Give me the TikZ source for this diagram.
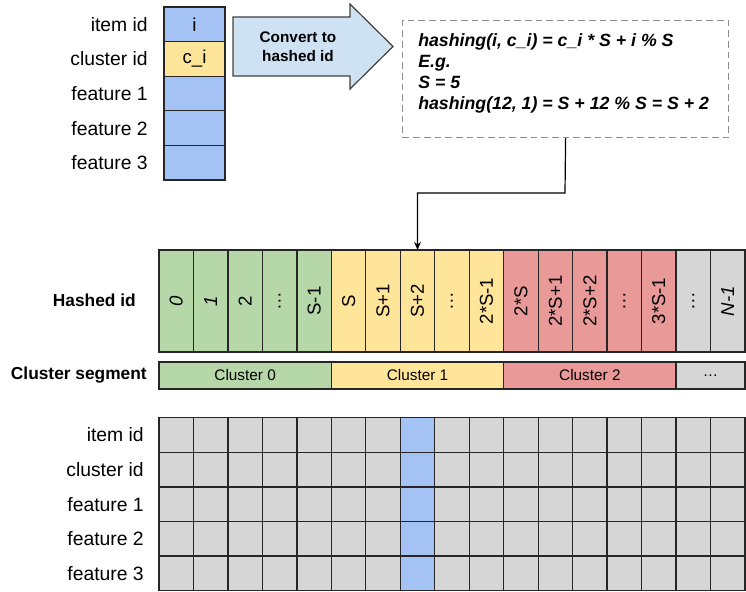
\documentclass[tikz,border=0pt]{standalone}
\usepackage{fontspec}
\setmainfont{Liberation Sans}
\usepackage{tikz}
\usetikzlibrary{calc,arrows.meta}

\definecolor{hblue}{HTML}{A4C2F4}
\definecolor{hyellow}{HTML}{FFE599}
\definecolor{hgreen}{HTML}{B6D7A8}
\definecolor{hred}{HTML}{EA9999}
\definecolor{hgray}{HTML}{D6D6D6}
\definecolor{harrow}{HTML}{CFE2F3}

\tikzset{
    cell/.style={draw=black!85, line width=1pt, anchor=north west, inner sep=0pt, outer sep=0pt, minimum width=25.85pt},
    rowlabel/.style={anchor=east, inner sep=0pt, font=\fontsize{14.5}{17}\selectfont},
    boldlabel/.style={anchor=east, inner sep=0pt, font=\fontsize{13}{15}\selectfont\bfseries},
    celltext/.style={rotate=90, font=\fontsize{14}{16}\selectfont}
}

\begin{document}
\begin{tikzpicture}[x=0.75pt, y=-0.75pt]
    \useasboundingbox (0,0) rectangle (746,592);

    % single item
    \foreach \lab/\col/\txt [count=\k from 0] in {item id/hblue/i, cluster id/hyellow/c\_i, feature 1/hblue/, feature 2/hblue/, feature 3/hblue/}
    {
        \node[cell, fill=\col, minimum width=45.75pt, minimum height=25.95pt, font=\fontsize{14}{16}\selectfont] (t\k) at (164,{7+\k*34.6}) {\txt};
        \node[rowlabel] (tl\k) at (148,{24.3+\k*34.6}) {\lab};
    }

    \coordinate (a1) at (233,17);
    \coordinate (a2) at (350,17);
    \coordinate (a3) at (350,4);
    \coordinate (tip) at (393,46.5);
    \coordinate (a5) at (350,89);
    \coordinate (a6) at (350,76);
    \coordinate (a7) at (233,76);
    \draw[fill=harrow, draw=black!75, line width=0.9pt] (a1) -- (a2) -- (a3) -- (tip) -- (a5) -- (a6) -- (a7) -- cycle;
    \node[align=center, font=\fontsize{11.5}{14}\selectfont\bfseries] (conv) at (298,47) {Convert to\\hashed id};

    \node[draw=black!45, dash pattern=on 5pt off 3pt, line width=0.9pt, anchor=north west, minimum width=244.5pt, minimum height=87.75pt, inner sep=0pt] (formula) at (402,20) {};
    \node[anchor=north west, align=left, inner sep=0pt, font=\fontsize{13.3}{15.8}\selectfont\bfseries\itshape] (ftext) at (418,33) {hashing(i, c\_i) = c\_i * S + i \% S\\E.g.\\S = 5\\hashing(12, 1) = S + 12 \% S = S + 2};

    % hashed ids
    \foreach \lab/\col [count=\k from 0] in {\textit{0}/hgreen, \textit{1}/hgreen, 2/hgreen, \ldots/hgreen, S-1/hgreen, S/hyellow, S+1/hyellow, S+2/hyellow, \ldots/hyellow, 2*S-1/hyellow, 2*S/hred, 2*S+1/hred, 2*S+2/hred, \ldots/hred, 3*S-1/hred, \ldots/hgray, \textit{N-1}/hgray}
    {
        \node[cell, fill=\col, minimum height=76.5pt] (h\k) at ({159+\k*34.47},250) {};
        \node[celltext] (hl\k) at (h\k.center) {\lab};
    }
    \node[boldlabel] (hashed) at (136,300) {Hashed id};

    \coordinate (bend) at (565,193);
    \draw[-{Stealth[length=6pt,width=5pt]}, line width=0.9pt] (formula.south) -- (bend) -| (h7.north);

    % cluster segments
    \node[cell, fill=hgreen, minimum width=129.25pt, minimum height=20.25pt, font=\fontsize{11.5}{14}\selectfont] (c0) at (159,362) {Cluster 0};
    \node[cell, fill=hyellow, minimum width=129.25pt, minimum height=20.25pt, font=\fontsize{11.5}{14}\selectfont] (c1) at (331.35,362) {Cluster 1};
    \node[cell, fill=hred, minimum width=129.25pt, minimum height=20.25pt, font=\fontsize{11.5}{14}\selectfont] (c2) at (503.7,362) {Cluster 2};
    \node[cell, fill=hgray, minimum width=51.7pt, minimum height=20.25pt, font=\fontsize{11.5}{14}\selectfont] (c3) at (676.05,362) {\ldots};
    \node[boldlabel] (segment) at (147,375.5) {Cluster segment};

    % embedding table
    \foreach \lab [count=\r from 0] in {item id, cluster id, feature 1, feature 2, feature 3}
    {
        \node[rowlabel] (gl\r) at (144,{435+\r*34.6}) {\lab};
        \foreach \c in {0,...,16}
        {
            \ifnum\c=7 \def\gcol{hblue}\else\def\gcol{hgray}\fi
            \node[cell, fill=\gcol, minimum height=25.95pt] (g\r-\c) at ({159+\c*34.47},{417.7+\r*34.6}) {};
        }
    }
\end{tikzpicture}
\end{document}
